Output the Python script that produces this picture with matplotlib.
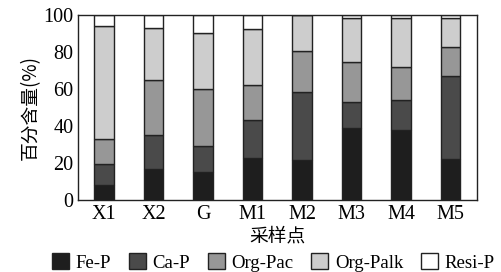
import numpy as np
from matplotlib import pyplot as plt
from matplotlib.patches import Patch

# Datos (porcentajes acumulados -> por fraccion)
sitios = ['X1', 'X2', 'G', 'M1', 'M2', 'M3', 'M4', 'M5']
fe_p = [8.3, 16.9, 15.3, 23.0, 21.9, 39.3, 38.1, 22.6]
ca_p = [11.4, 18.3, 14.1, 20.5, 36.8, 13.8, 16.3, 44.4]
org_pac = [13.5, 30.0, 30.9, 18.6, 21.9, 21.6, 17.4, 15.8]
org_palk = [60.9, 28.0, 29.8, 30.2, 19.4, 23.5, 26.8, 15.4]
resi_p = [5.9, 6.8, 9.9, 7.7, 0.0, 1.8, 1.4, 1.8]

series = [fe_p, ca_p, org_pac, org_palk, resi_p]
nombres = ['Fe-P', 'Ca-P', 'Org-Pac', 'Org-Palk', 'Resi-P']
colores = ['#1e1e1e', '#4a4a4a', '#979797', '#cdcdcd', '#ffffff']

plt.rcParams['font.family'] = ['Liberation Serif', 'Noto Sans CJK SC']

fig = plt.figure(figsize=(5.02, 2.72), dpi=100)
ax = fig.add_axes([0.155, 0.263, 0.795, 0.682])

x = np.arange(len(sitios))
base = np.zeros(len(sitios))
for vals, nombre, color in zip(series, nombres, colores):
    ax.bar(x, vals, width=0.39, bottom=base, color=color,
           edgecolor='#222222', linewidth=1.0, label=nombre)
    base += np.array(vals)

ax.set_xlim(-0.53, 7.53)
ax.set_ylim(0, 100)
ax.set_yticks([0, 20, 40, 60, 80, 100])
ax.set_xticks(x)
ax.set_xticklabels(sitios)
ax.tick_params(length=0, labelsize=14.5, pad=3)
for s in ax.spines.values():
    s.set_linewidth(1.0)
    s.set_color('#222222')

ax.set_ylabel('百分含量(%)', fontsize=13.5, family='Noto Sans CJK SC', labelpad=2)
ax.set_xlabel('采样点', fontsize=13.5, family='Noto Sans CJK SC', labelpad=1)

handles = [Patch(facecolor=c, edgecolor='#222222', linewidth=1.0) for c in colores]
fig.legend(handles, nombres, loc='center', bbox_to_anchor=(0.545, 0.035),
           ncol=5, frameon=False, fontsize=13.5, handlelength=0.9,
           handleheight=0.9, handletextpad=0.35, columnspacing=0.95,
           borderpad=0.0)

fig.savefig('out.png', dpi=100)
